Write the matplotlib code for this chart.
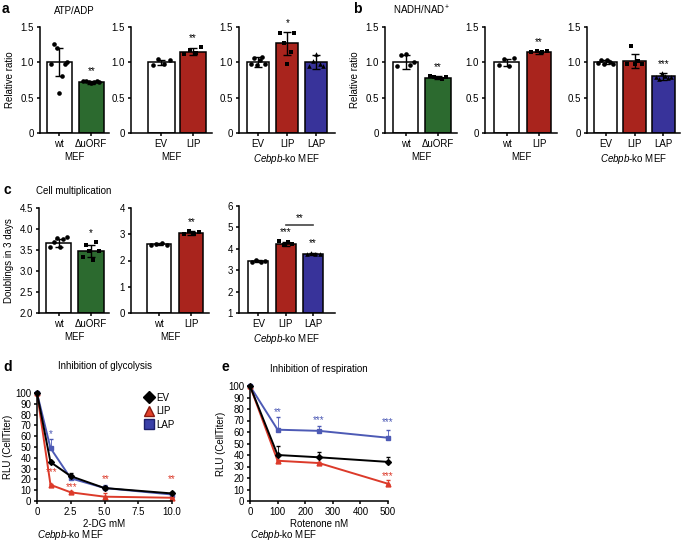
import numpy as np
import matplotlib
matplotlib.use('Agg')
import matplotlib.pyplot as plt
from matplotlib.lines import Line2D

plt.rcParams['font.family'] = 'Liberation Sans'
plt.rcParams['font.size'] = 7
plt.rcParams['mathtext.fontset'] = 'custom'
plt.rcParams['mathtext.it'] = 'Liberation Sans:italic'
plt.rcParams['mathtext.rm'] = 'Liberation Sans'
plt.rcParams['axes.linewidth'] = 1.1
plt.rcParams['xtick.major.size'] = 2.5
plt.rcParams['ytick.major.size'] = 2.5
plt.rcParams['xtick.major.width'] = 1.1
plt.rcParams['ytick.major.width'] = 1.1

GREEN = '#2c6a2f'
RED = '#a9241d'
BLUE = '#38339a'

# --- a: ATP/ADP ---
atp_uorf_labels = ['wt', '\u0394uORF']
atp_uorf_mean = [1.0, 0.72]
atp_uorf_sd = [0.2, 0.02]
atp_uorf_pts = [[0.97, 1.26, 1.2, 0.57, 0.8, 0.98, 1.0],
                 [0.73, 0.74, 0.72, 0.71, 0.72, 0.73, 0.72]]
atp_uorf_stars = ['', '**']

atp_lip_labels = ['EV', 'LIP']
atp_lip_mean = [1.0, 1.15]
atp_lip_sd = [0.04, 0.05]
atp_lip_pts = [[0.96, 1.05, 0.97, 1.04], [1.12, 1.17, 1.13, 1.21]]
atp_lip_stars = ['', '**']

atp_ko_labels = ['EV', 'LIP', 'LAP']
atp_ko_mean = [1.0, 1.27, 1.0]
atp_ko_sd = [0.07, 0.16, 0.1]
atp_ko_pts = [[0.97, 1.06, 0.96, 1.04, 1.07, 0.98],
              [1.42, 1.28, 0.98, 1.14, 1.42],
              [0.95, 1.02, 1.12, 0.97, 0.95]]
atp_ko_stars = ['', '*', '']

# --- b: NADH/NAD+ ---
nad_uorf_mean = [1.0, 0.78]
nad_uorf_sd = [0.1, 0.02]
nad_uorf_pts = [[0.95, 1.1, 1.12, 0.96, 1.0], [0.8, 0.79, 0.78, 0.77, 0.79]]
nad_uorf_stars = ['', '**']

nad_lip_mean = [1.0, 1.14]
nad_lip_sd = [0.05, 0.02]
nad_lip_pts = [[0.96, 1.05, 0.95, 1.06], [1.14, 1.16, 1.15, 1.16]]
nad_lip_stars = ['', '**']

nad_ko_mean = [1.0, 1.02, 0.8]
nad_ko_sd = [0.03, 0.1, 0.05]
nad_ko_pts = [[0.99, 1.03, 0.97, 1.04, 1.0, 0.98],
              [0.98, 1.23, 0.98, 1.02, 0.98],
              [0.79, 0.76, 0.85, 0.8, 0.78, 0.79]]
nad_ko_stars = ['', '', '***']

# --- c: cell multiplication (doublings in 3 days) ---
dbl_uorf_mean = [3.67, 3.48]
dbl_uorf_sd = [0.09, 0.14]
dbl_uorf_pts = [[3.57, 3.68, 3.78, 3.56, 3.75, 3.82],
                [3.34, 3.63, 3.48, 3.25, 3.68, 3.48]]
dbl_uorf_stars = ['', '*']

dbl_lip_mean = [2.62, 3.05]
dbl_lip_sd = [0.03, 0.06]
dbl_lip_pts = [[2.6, 2.62, 2.66, 2.6], [3.0, 3.12, 3.02, 3.1]]
dbl_lip_stars = ['', '**']

dbl_ko_mean = [3.42, 4.23, 3.76]
dbl_ko_sd = [0.05, 0.08, 0.04]
dbl_ko_pts = [[3.4, 3.48, 3.38, 3.42], [4.35, 4.2, 4.3, 4.22], [3.74, 3.82, 3.75, 3.78]]
dbl_ko_stars = ['', '***', '**']

# --- d: inhibition of glycolysis ---
dg_conc = [0, 1, 2.5, 5, 10]
dg_ev = [100, 36, 23, 12, 7]
dg_ev_err = [0, 1, 3, 2, 1]
dg_lip = [100, 15, 8, 4, 3]
dg_lip_err = [0, 1, 1, 3, 1]
dg_lap = [100, 49, 21, 12, 6]
dg_lap_err = [0, 8, 2, 3, 2]

# --- e: inhibition of respiration ---
rot_conc = [0, 100, 250, 500]
rot_ev = [100, 40, 38, 34]
rot_ev_err = [0, 8, 5, 4]
rot_lip = [100, 35, 33, 15]
rot_lip_err = [0, 1, 1, 3]
rot_lap = [100, 62, 61, 55]
rot_lap_err = [0, 11, 4, 7]

W, H = 682, 543
fig = plt.figure(figsize=(W / 100, H / 100), dpi=100)


def px_axes(x0, x1, y0, y1):
    # pixel box (top-left origin) -> figure axes
    return fig.add_axes([x0 / W, 1 - y1 / H, (x1 - x0) / W, (y1 - y0) / H])


def bar_panel(ax, labels, means, sds, points, colors, markers, stars,
              ylim, yticks, yfmt, xlim, width, xlabel):
    x = np.arange(len(means))
    base = ylim[0]
    ax.bar(x, np.array(means) - base, bottom=base, width=width, color=colors,
           edgecolor='black', linewidth=1.1, zorder=1)
    ax.errorbar(x, means, yerr=sds, fmt='none', ecolor='black', elinewidth=1.0,
                capsize=3, capthick=1.0, zorder=3)
    for i, pts in enumerate(points):
        dx = np.linspace(-width * 0.32, width * 0.32, len(pts))
        ax.scatter(x[i] + dx, pts, s=11, marker=markers[i], color='black',
                   linewidths=0, zorder=4, clip_on=False)
    span = ylim[1] - ylim[0]
    for i, st in enumerate(stars):
        if st:
            top = max(max(points[i]), means[i] + sds[i])
            ax.text(x[i], top + 0.04 * span, st, ha='center', va='bottom', fontsize=7)
    ax.set_xlim(*xlim)
    ax.set_ylim(*ylim)
    ax.set_yticks(yticks)
    ax.set_yticklabels([yfmt(v) for v in yticks])
    ax.set_xticks(x)
    ax.set_xticklabels(labels)
    ax.set_xlabel(xlabel, labelpad=2)
    ax.spines['top'].set_visible(False)
    ax.spines['right'].set_visible(False)
    ax.tick_params(pad=2)


KO = r'$\it{Cebpb}$-ko MEF'
ratio_ticks = [0, 0.5, 1.0, 1.5]


def rfmt(v):
    return '0' if v == 0 else '{:.1f}'.format(v)


def ifmt(v):
    return '{:d}'.format(v)


# a
ax = px_axes(40, 109, 27, 133)
bar_panel(ax, atp_uorf_labels, atp_uorf_mean, atp_uorf_sd, atp_uorf_pts,
          ['white', GREEN], ['o', 'o'], atp_uorf_stars, (0, 1.5), ratio_ticks,
          rfmt, (-0.6, 1.55), 0.78, 'MEF')
ax.set_ylabel('Relative ratio', labelpad=4)
ax.set_title('ATP/ADP', fontsize=7, pad=9)

ax = px_axes(131, 212, 27, 133)
bar_panel(ax, atp_lip_labels, atp_lip_mean, atp_lip_sd, atp_lip_pts,
          ['white', RED], ['o', 's'], atp_lip_stars, (0, 1.5), ratio_ticks,
          rfmt, (-0.95, 1.6), 0.84, 'MEF')

ax = px_axes(239, 335, 27, 133)
bar_panel(ax, atp_ko_labels, atp_ko_mean, atp_ko_sd, atp_ko_pts,
          ['white', RED, BLUE], ['o', 's', '^'], atp_ko_stars, (0, 1.5), ratio_ticks,
          rfmt, (-0.66, 2.64), 0.76, KO)

# b
ax = px_axes(385, 457, 27, 133)
bar_panel(ax, atp_uorf_labels, nad_uorf_mean, nad_uorf_sd, nad_uorf_pts,
          ['white', GREEN], ['o', 's'], nad_uorf_stars, (0, 1.5), ratio_ticks,
          rfmt, (-0.63, 1.58), 0.78, 'MEF')
ax.set_ylabel('Relative ratio', labelpad=4)
ax.set_title('NADH/NAD$^{+}$', fontsize=7, pad=9)

ax = px_axes(485, 557, 27, 133)
bar_panel(ax, ['wt', 'LIP'], nad_lip_mean, nad_lip_sd, nad_lip_pts,
          ['white', RED], ['o', 's'], nad_lip_stars, (0, 1.5), ratio_ticks,
          rfmt, (-0.66, 1.55), 0.74, 'MEF')

ax = px_axes(587, 680, 27, 133)
bar_panel(ax, atp_ko_labels, nad_ko_mean, nad_ko_sd, nad_ko_pts,
          ['white', RED, BLUE], ['o', 's', '^'], nad_ko_stars, (0, 1.5), ratio_ticks,
          rfmt, (-0.64, 2.57), 0.79, KO)

# c
ax = px_axes(39, 109, 208, 313)
bar_panel(ax, atp_uorf_labels, dbl_uorf_mean, dbl_uorf_sd, dbl_uorf_pts,
          ['white', GREEN], ['o', 's'], dbl_uorf_stars, (2.0, 4.5),
          [2.0, 2.5, 3.0, 3.5, 4.0, 4.5], '{:.1f}'.format, (-0.6, 1.55), 0.78, 'MEF')
ax.set_ylabel('Doublings in 3 days', labelpad=4)
ax.set_title('Cell multiplication', fontsize=7, pad=10)

ax = px_axes(131, 209, 208, 313)
bar_panel(ax, ['wt', 'LIP'], dbl_lip_mean, dbl_lip_sd, dbl_lip_pts,
          ['white', RED], ['o', 's'], dbl_lip_stars, (0, 4),
          [0, 1, 2, 3, 4], ifmt, (-0.86, 1.54), 0.74, 'MEF')

ax = px_axes(239, 335, 206, 313)
bar_panel(ax, atp_ko_labels, dbl_ko_mean, dbl_ko_sd, dbl_ko_pts,
          ['white', RED, BLUE], ['o', 's', '^'], dbl_ko_stars, (1, 6),
          [1, 2, 3, 4, 5, 6], ifmt, (-0.71, 2.8), 0.73, KO)
ax.plot([1, 2], [5.1, 5.1], color='#444444', lw=1.2)
ax.text(1.5, 5.18, '**', ha='center', va='bottom', fontsize=7)


def line_panel(ax, x, ev, ev_err, lip, lip_err, lap, lap_err):
    z = np.zeros(len(x))
    ax.errorbar(x, ev, yerr=[z, ev_err], color='black', lw=1.4, marker='D', ms=3,
                elinewidth=0.6, capsize=1.5, zorder=3, clip_on=False)
    ax.errorbar(x, lip, yerr=[z, lip_err], color='#dc3a2a', lw=1.4, marker='^', ms=3.5,
                elinewidth=0.6, capsize=1.5, zorder=2, clip_on=False)
    ax.errorbar(x, lap, yerr=[z, lap_err], color='#4d5ab5', lw=1.4, marker='s', ms=3.5,
                elinewidth=0.6, capsize=1.5, zorder=1, clip_on=False)
    ax.set_ylim(0, 100)
    ax.set_yticks(range(0, 101, 10))
    ax.set_ylabel('RLU (CellTiter)', labelpad=2)
    ax.spines['top'].set_visible(False)
    ax.spines['right'].set_visible(False)
    ax.tick_params(pad=1.5)


# d
ax = px_axes(37, 172, 393, 501)
line_panel(ax, dg_conc, dg_ev, dg_ev_err, dg_lip, dg_lip_err, dg_lap, dg_lap_err)
for xs, ys, st, c in [(1, 62, '*', '#4d5ab5'), (1.1, 27, '***', '#dc3a2a'),
                      (2.6, 13, '***', '#dc3a2a'), (5.1, 20, '**', '#dc3a2a'),
                      (10, 20, '**', '#dc3a2a')]:
    ax.text(xs, ys, st, color=c, ha='center', va='center', fontsize=7)
ax.set_xlim(0, 10)
ax.set_xticks([0, 2.5, 5, 7.5, 10])
ax.set_xticklabels(['0', '2.5', '5.0', '7.5', '10.0'])
ax.set_xlabel('2-DG mM', labelpad=2)
ax.set_title('Inhibition of glycolysis', fontsize=7, pad=17)
handles = [Line2D([], [], marker='D', color='black', ls='none', ms=6),
           Line2D([], [], marker='^', color='#e0402a', mec='#8a1a10', ls='none', ms=7),
           Line2D([], [], marker='s', color='#3a40a8', mec='#1c1f6a', ls='none', ms=7)]
fig.legend(handles, ['EV', 'LIP', 'LAP'], loc='upper left',
           bbox_to_anchor=(139 / W, 1 - 388 / H), frameon=False, fontsize=7,
           handlelength=1.0, handletextpad=0.3, labelspacing=0.35, borderpad=0)

# e
ax = px_axes(250, 388, 386, 501)
line_panel(ax, rot_conc, rot_ev, rot_ev_err, rot_lip, rot_lip_err, rot_lap, rot_lap_err)
for xs, ys, st, c in [(100, 77, '**', '#4d5ab5'), (250, 70, '***', '#4d5ab5'),
                      (500, 69, '***', '#4d5ab5'), (500, 22, '***', '#dc3a2a')]:
    ax.text(xs, ys, st, color=c, ha='center', va='center', fontsize=7)
ax.set_xlim(0, 500)
ax.set_xticks(range(0, 501, 100))
ax.set_xlabel('Rotenone nM', labelpad=2)
ax.set_title('Inhibition of respiration', fontsize=7, pad=10)

fig.text(37 / W, 1 - 535 / H, KO, fontsize=7, va='center')
fig.text(250 / W, 1 - 535 / H, KO, fontsize=7, va='center')

for lab, xp, yp in [('a', 2, 9), ('b', 353, 9), ('c', 3, 190), ('d', 3, 367), ('e', 222, 367)]:
    fig.text(xp / W, 1 - yp / H, lab, fontsize=10, fontweight='bold', va='center')

fig.savefig('out.png', dpi=100)
